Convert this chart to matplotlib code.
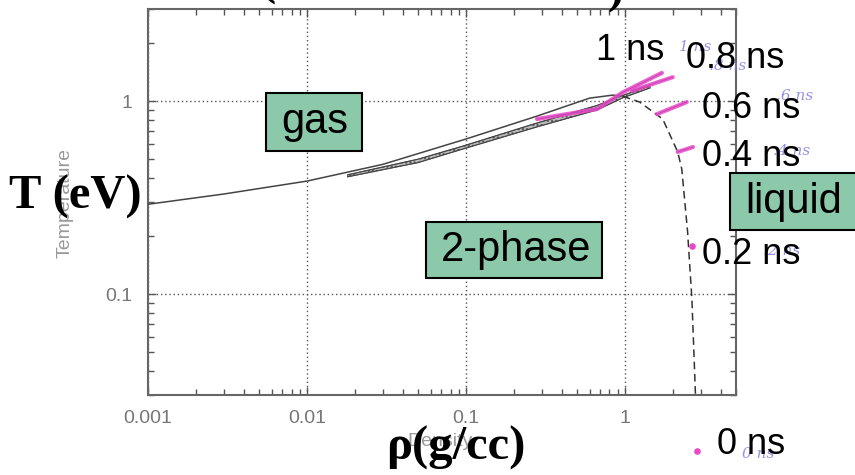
import matplotlib
matplotlib.use("Agg")
import matplotlib.pyplot as plt
from matplotlib.patches import Rectangle
from matplotlib.ticker import FixedLocator, LogLocator, NullFormatter

# vapour side of the coexistence curve (upper solid line)
rho_gas = [0.001, 0.003, 0.01, 0.03, 0.1, 0.28, 0.6, 0.84, 0.97]
T_gas = [0.292, 0.33, 0.385, 0.47, 0.636, 0.836, 1.036, 1.074, 1.06]

# hatched band of the lower solid curves
rho_band = [0.018, 0.05, 0.096, 0.28, 0.67, 0.97, 1.44]
T_band_hi = [0.415, 0.50, 0.585, 0.77, 0.95, 1.07, 1.20]
T_band_lo = [0.405, 0.48, 0.565, 0.735, 0.90, 1.04, 1.17]

# liquid side (dashed)
rho_liq = [0.97, 1.24, 1.73, 2.15, 2.28, 2.48, 2.64, 2.78]
T_liq = [1.06, 0.988, 0.807, 0.545, 0.444, 0.21, 0.094, 0.03]

# pink hand-drawn tracks for each time
tracks = {
    "1 ns": ([0.28, 0.667, 0.97, 1.71], [0.807, 0.909, 1.11, 1.40]),
    "0.8 ns": ([1.107, 2.0], [1.13, 1.33]),
    "0.6 ns": ([1.59, 2.45], [0.856, 0.988]),
    "0.4 ns": ([2.15, 2.68], [0.545, 0.578]),
}
dot_rho = [2.64, 2.84]
dot_T = [0.177, 0.0154]

time_labels = ["1 ns", "0.8 ns", "0.6 ns", "0.4 ns", "0.2 ns", "0 ns"]
time_pos = [(630, 50), (735, 59), (751, 108), (751, 156), (751, 254), (751, 445)]
note_labels = ["1 ns", ".8 ns", ".6 ns", ".4 ns", ".2 ns", "0 ns"]
note_pos = [(695, 47), (728, 66), (795, 96), (792, 151), (782, 251), (758, 454)]

region_labels = ["gas", "2-phase", "liquid"]
region_boxes = [(266, 93, 362, 151), (426, 222, 602, 278), (730, 173, 862, 230)]

xticks = [0.001, 0.01, 0.1, 1]
xtick_labels = ["0.001", "0.01", "0.1", "1"]
yticks = [0.1, 1]
ytick_labels = ["0.1", "1"]

W, H = 855, 475
fig = plt.figure(figsize=(W / 100, H / 100), dpi=100)


def fx(x):
    return x / W


def fy(y):
    return 1 - y / H


ax = fig.add_axes([fx(148), fy(395), (736 - 148) / W, (395 - 9) / H])
ax.set_xscale("log")
ax.set_yscale("log")
ax.set_xlim(0.001, 5)
ax.set_ylim(0.03, 3)

grey = "#555555"
ax.plot(rho_gas, T_gas, color="#444444", lw=1.1, zorder=3)
ax.fill_between(rho_band, T_band_lo, T_band_hi, facecolor="#bbbbbb",
                edgecolor="#555555", hatch="....", lw=0.6, zorder=3)
ax.plot(rho_band, T_band_hi, color="#444444", lw=0.8, zorder=3)
ax.plot(rho_band, T_band_lo, color="#444444", lw=0.8, zorder=3)
ax.plot(rho_liq, T_liq, color="#333333", lw=1.1, ls=(0, (5, 3)), zorder=3)

pink = "#e848c8"
for name, (r, t) in tracks.items():
    ax.plot(r, t, color="#333333", lw=0.8, zorder=4)
    ax.plot(r, t, color=pink, lw=3, alpha=0.85, solid_capstyle="round", zorder=5)
ax.scatter(dot_rho, dot_T, s=14, color=pink, clip_on=False, zorder=6)

ax.xaxis.set_major_locator(FixedLocator(xticks))
ax.set_xticklabels(xtick_labels)
ax.yaxis.set_major_locator(FixedLocator(yticks))
ax.set_yticklabels(ytick_labels)
ax.xaxis.set_minor_locator(LogLocator(base=10, subs=range(2, 10), numticks=20))
ax.yaxis.set_minor_locator(LogLocator(base=10, subs=range(2, 10), numticks=20))
ax.xaxis.set_minor_formatter(NullFormatter())
ax.yaxis.set_minor_formatter(NullFormatter())
ax.tick_params(which="both", direction="in", top=True, right=True, color=grey,
               labelcolor="#777777", labelsize=14, pad=11)
ax.tick_params(which="major", length=6, width=1)
ax.tick_params(which="minor", length=4, width=1)
for lab in ax.get_xticklabels() + ax.get_yticklabels():
    lab.set_family("Liberation Sans")
for s in ax.spines.values():
    s.set_color("#666666")
    s.set_linewidth(1.5)
ax.grid(True, which="major", ls=(0, (1, 2)), color=grey, lw=1)

# original faint axis titles of the scanned plot
fig.text(fx(65), fy(203), "Temperature", rotation=90, ha="center", va="center",
         color="#999999", fontsize=14, family="Liberation Sans")
fig.text(fx(440), fy(441), "Density", ha="center", va="center",
         color="#999999", fontsize=14, family="Liberation Sans")

# overlaid axis titles
fig.text(fx(75), fy(197), "T (eV)", ha="center", va="center", fontsize=35,
         fontweight="bold", family="Liberation Serif")
fig.text(fx(456), fy(448), "ρ(g/cc)", ha="center", va="center", fontsize=35,
         fontweight="bold", family="Liberation Serif")

# bits of the cut-off heading
fig.text(fx(268), fy(-5), "(", ha="center", va="baseline", fontsize=35,
         fontweight="bold", family="Liberation Serif")
fig.text(fx(615), fy(3), ")", ha="center", va="baseline", fontsize=35,
         fontweight="bold", family="Liberation Serif")

for lab, (x0, y0, x1, y1) in zip(region_labels, region_boxes):
    fig.add_artist(Rectangle((fx(x0), fy(y1)), (x1 - x0) / W, (y1 - y0) / H,
                             transform=fig.transFigure, facecolor="#8bc9aa",
                             edgecolor="black", lw=1.5, zorder=7))
    fig.text(fx(x0 + 15), fy((y0 + y1) / 2), lab, ha="left", va="center",
             fontsize=30, family="Liberation Sans", zorder=8)

for lab, (x, y) in zip(note_labels, note_pos):
    fig.text(fx(x), fy(y), lab, ha="center", va="center", fontsize=11,
             style="italic", color="#7a78e0", alpha=0.8, family="DejaVu Serif",
             zorder=8)

for lab, (x, y) in zip(time_labels, time_pos):
    fig.text(fx(x), fy(y), lab, ha="center", va="center", fontsize=26,
             family="Liberation Sans", zorder=9)

fig.savefig("out.png", dpi=100)
